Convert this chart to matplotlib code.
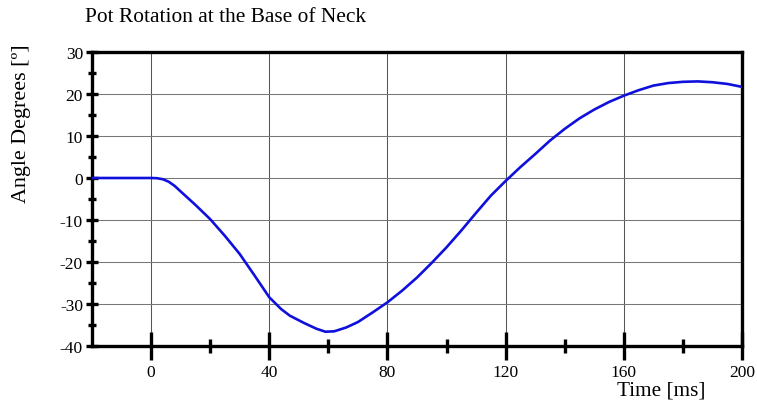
import matplotlib
matplotlib.use("Agg")
import matplotlib.pyplot as plt
from matplotlib.ticker import FixedLocator

plt.rcParams['font.family'] = ['Liberation Serif', 'DejaVu Serif']

time_ms = [-20, 0, 2, 4, 6, 8, 10, 15, 20, 25, 30, 35, 40, 44, 47, 52, 56, 59, 62, 66, 70, 75, 80,
           85, 90, 95, 100, 105, 110, 115, 120, 125, 130, 135, 140, 145, 150, 155, 160,
           165, 170, 175, 180, 185, 190, 195, 200]
angle_deg = [0, 0, -0.05, -0.3, -0.9, -1.9, -3.2, -6.4, -9.8, -13.8, -18.1, -23.2, -28.4, -31.2,
             -32.8, -34.6, -35.9, -36.6, -36.5, -35.6, -34.3, -32.0, -29.6, -26.8, -23.7, -20.2,
             -16.5, -12.5, -8.3, -4.2, -0.7, 2.6, 5.7, 8.9, 11.7, 14.2, 16.3, 18.1, 19.6, 20.9,
             22.0, 22.6, 22.9, 23.0, 22.8, 22.4, 21.7]

x_major = [0, 40, 80, 120, 160, 200]
x_minor = [20, 60, 100, 140, 180]
y_major = [-40, -30, -20, -10, 0, 10, 20, 30]
y_minor = [-35, -25, -15, -5, 5, 15, 25]

fig = plt.figure(figsize=(7.57, 4.06), dpi=100)
ax = fig.add_axes([92/757, 1-347/406, (742-92)/757, (347-53)/406])

ax.plot(time_ms, angle_deg, color='#1010dd', lw=1.9, zorder=3)

ax.set_xlim(-20, 200)
ax.set_ylim(-40, 30)

ax.xaxis.set_major_locator(FixedLocator(x_major))
ax.xaxis.set_minor_locator(FixedLocator(x_minor))
ax.yaxis.set_major_locator(FixedLocator(y_major))
ax.yaxis.set_minor_locator(FixedLocator(y_minor))

# grid
for gx in [0, 40, 80, 120, 160]:
    ax.axvline(gx, color='#555555', lw=0.75, zorder=1)
for gy in [-30, -20, -10, 0, 10, 20]:
    ax.axhline(gy, color='#777777', lw=0.75, zorder=1)

for s in ax.spines.values():
    s.set_linewidth(2.4)
    s.set_color('black')

ax.tick_params(axis='x', which='major', direction='inout', length=20, width=2.4,
               labelsize=12.5, pad=3)
ax.tick_params(axis='x', which='minor', direction='inout', length=10, width=2.4)
ax.tick_params(axis='y', which='major', direction='inout', length=9, width=2.4,
               labelsize=12.5, pad=2)
ax.tick_params(axis='y', which='minor', direction='inout', length=5.5, width=2.4)

ax.set_xticklabels([str(v) for v in x_major])
ax.set_yticklabels([str(v) for v in y_major])

fig.text(85/757, 1-18/406, 'Pot Rotation at the Base of Neck', fontsize=15.4,
         ha='left', va='center')
fig.text(22/757, 1-124/406, 'Angle Degrees [º]', fontsize=15.8, rotation=90,
         ha='center', va='center')
fig.text(661/757, 1-391/406, 'Time [ms]', fontsize=15.3, ha='center', va='center')

fig.savefig('out.png', dpi=100)
